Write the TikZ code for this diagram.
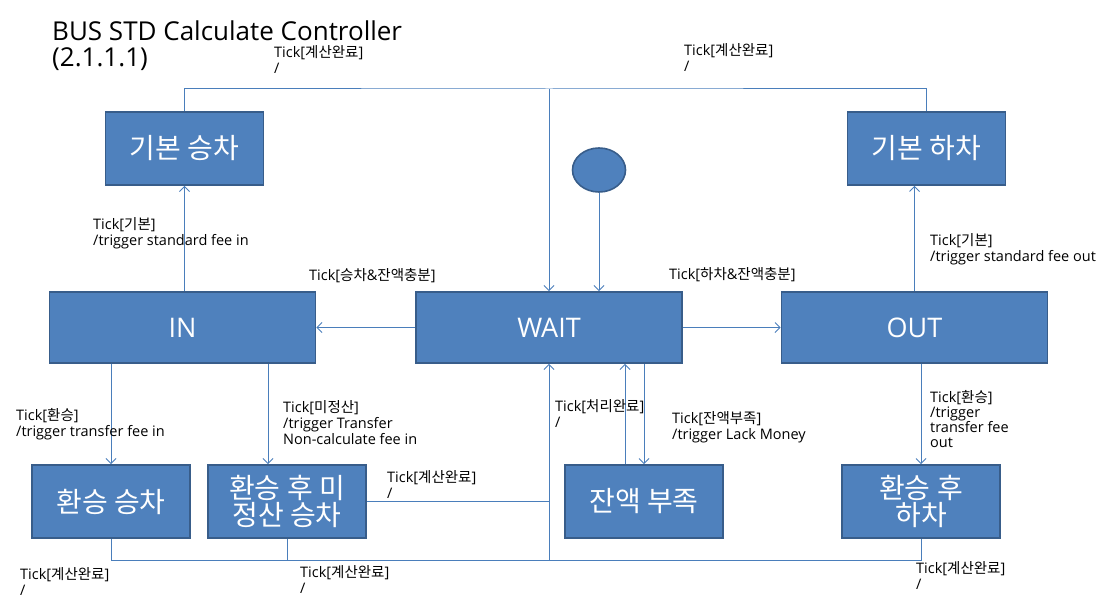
\documentclass[tikz,border=0pt]{standalone}
\usepackage{fontspec}
\setmainfont{Open Sans}
\newfontfamily\krfont{Noto Sans CJK KR}
\usetikzlibrary{positioning, arrows.meta, shapes.geometric}

\definecolor{boxfill}{RGB}{79,129,189}
\definecolor{boxline}{RGB}{56,93,138}
\definecolor{linecol}{RGB}{74,126,187}

\begin{document}
\begin{tikzpicture}[x=1pt, y=-1pt, ->, >={Straight Barb[length=5pt,width=10pt]},
  conn/.style={draw=linecol, line width=1pt},
  stbox/.style={rectangle, draw=boxline, line width=1.6pt, fill=boxfill, text=white,
    minimum width=158pt, minimum height=73pt, inner sep=0pt, align=center,
    font=\krfont\fontsize{28}{25}\selectfont},
  widebox/.style={stbox, minimum width=266pt, minimum height=71pt, font=\fontsize{27}{27}\selectfont},
  lbl/.style={anchor=base west, align=left, inner sep=0pt, font=\fontsize{14.5}{16}\selectfont}]

  \useasboundingbox (0,0) rectangle (1104,607);

  % title (base anchor sits on the last line)
  \node[anchor=base west, align=left, inner sep=0pt, font=\fontsize{26}{26}\selectfont] (title) at (52,67)
    {BUS STD Calculate Controller\\(2.1.1.1)};

  % states
  \node[stbox] (bin) at (184.5,148.5) {기본 승차};
  \node[stbox] (bout) at (926.5,148.5) {기본 하차};
  \node[widebox] (in) at (182.5,327.5) {IN};
  \node[widebox] (wait) at (549,327.5) {WAIT};
  \node[widebox] (out) at (914.5,327.5) {OUT};
  \node[stbox] (tin) at (111,501.5) {환승 승차};
  \node[stbox] (tnc) at (287,501.5) {환승 후 미\\정산 승차};
  \node[stbox] (lack) at (644,501.5) {잔액 부족};
  \node[stbox] (tout) at (921,501.5) {환승 후\\하차};
  \node[ellipse, draw=boxline, line width=1.6pt, fill=boxfill, minimum width=53pt, minimum height=44pt, inner sep=0pt] (start) at (599,170) {};

  \coordinate (jtop) at (549,89);
  \coordinate (jbot) at (549,560);

  % transitions
  \draw[conn, -] (bin.north) |- (jtop) -| (bout.north);
  \draw[conn] (jtop) -- (wait.north);
  \draw[conn] (start) -- (start |- wait.north);
  \draw[conn] (wait.west) -- (in.east);
  \draw[conn] (wait.east) -- (out.west);
  \draw[conn] (in.north -| bin.south) -- (bin.south);
  \draw[conn] (out.north) -- (bout.south -| out.north);
  \draw[conn] (in.south -| tin.north) -- (tin.north);
  \draw[conn] ([xshift=-19pt]tnc.north |- in.south) -- ([xshift=-19pt]tnc.north);
  \draw[conn] (out.south -| tout.north) -- (tout.north);
  \draw[conn] ([xshift=-19pt]lack.north) -- ([xshift=-19pt]lack.north |- wait.south);
  \draw[conn] (wait.south -| lack.north) -- (lack.north);
  \draw[conn, -] (tnc.east) -- (tnc.east -| jbot);
  \draw[conn, -] (tin.south) |- (jbot);
  \draw[conn, -] (tnc.south) -- (tnc.south |- jbot);
  \draw[conn, -] (tout.south) |- (jbot);
  \draw[conn] (jbot) -- (wait.south);

  % guards and actions (placed by their last line)
  \node[lbl] (done1) at (274,74) {Tick[{\krfont 계산완료}]\\/};
  \node[lbl] (done2) at (684,72) {Tick[{\krfont 계산완료}]\\/};
  \node[lbl] (stdin) at (93,245) {Tick[{\krfont 기본}]\\/trigger standard fee in};
  \node[lbl] (stdout) at (930,261) {Tick[{\krfont 기본}]\\/trigger standard fee out};
  \node[lbl] (goin) at (309,280) {Tick[{\krfont 승차}\&{\krfont 잔액충분}]};
  \node[lbl] (goout) at (669,279) {Tick[{\krfont 하차}\&{\krfont 잔액충분}]};
  \node[lbl] (trin) at (16,436) {Tick[{\krfont 환승}]\\/trigger transfer fee in};
  \node[lbl] (ncin) at (283,444) {Tick[{\krfont 미정산}]\\/trigger Transfer\\Non-calculate fee in};
  \node[lbl] (done3) at (387,498) {Tick[{\krfont 계산완료}]\\/};
  \node[lbl] (handled) at (555,427) {Tick[{\krfont 처리완료}]\\/};
  \node[lbl] (nomoney) at (672,439) {Tick[{\krfont 잔액부족}]\\/trigger Lack Money};
  \node[lbl, font=\fontsize{14.5}{15}\selectfont] (trout) at (930,447) {Tick[{\krfont 환승}]\\/trigger\\transfer fee\\out};
  \node[lbl] (done4) at (20,595) {Tick[{\krfont 계산완료}]\\/};
  \node[lbl] (done5) at (300,593) {Tick[{\krfont 계산완료}]\\/};
  \node[lbl] (done6) at (916,589) {Tick[{\krfont 계산완료}]\\/};
\end{tikzpicture}
\end{document}
